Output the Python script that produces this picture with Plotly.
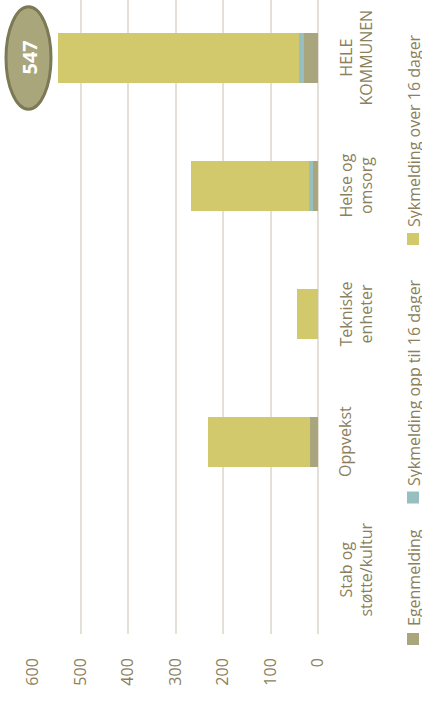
import plotly.graph_objects as go

# ---- data ----
categories = ["Stab og støtte/kultur", "Oppvekst", "Tekniske enheter", "Helse og omsorg", "HELE KOMMUNEN"]
category_labels = ["Stab og<br>støtte/kultur", "Oppvekst", "Tekniske<br>enheter", "Helse og<br>omsorg", "HELE<br>KOMMUNEN"]
series_names = ["Egenmelding", "Sykmelding opp til 16 dager", "Sykmelding over 16 dager"]
egenmelding = [0, 17, 0, 11, 30]
sykm_opp_til_16 = [0, 0, 0, 8, 9]
sykm_over_16 = [0, 215, 45, 249, 508]
x_ticks = [0, 100, 200, 300, 400, 500, 600]

# ---- style ----
W, H = 422, 702
ML, MR, MT, MB = 33, 104, 0, 68
PW, PH = W - ML - MR, H - MT - MB
colors = ["#a9a57c", "#98bfbf", "#d1c96b"]
txt_color = "#8b7f5c"
grid_color = "#e4e0d7"
FONT = "Open Sans"
Y0, Y1 = -0.5, -0.5 + PH / 128.0


def px_x(p):
    return (p - ML) / PW


def px_y(p):
    return (H - MB - p) / PH


def cat_y(i):
    return (i - Y0) / (Y1 - Y0)


fig = go.Figure()
for name, vals, col in zip(series_names, [egenmelding, sykm_opp_til_16, sykm_over_16], colors):
    fig.add_trace(go.Bar(
        y=categories, x=vals, orientation="h", name=name,
        marker=dict(color=col, line=dict(width=0)), showlegend=False,
    ))

annotations = []
shapes = []

# category labels (rotated)
for i, lab in enumerate(category_labels):
    annotations.append(dict(
        x=px_x(333), xref="paper", y=categories[i], yref="y",
        text=lab, textangle=-90, showarrow=False, xanchor="left", yanchor="middle",
        font=dict(family=FONT, size=16, color=txt_color), borderpad=0, align="center",
    ))

# legend (rotated)
legend_marker_y = [639, 497.5, 239]
legend_text_y = [627, 487, 228]
for name, col, my, ty in zip(series_names, colors, legend_marker_y, legend_text_y):
    shapes.append(dict(type="rect", xref="paper", yref="paper",
                       x0=px_x(407), x1=px_x(419), y0=px_y(my + 6), y1=px_y(my - 6),
                       fillcolor=col, line=dict(width=0)))
    annotations.append(dict(
        x=px_x(413.5), xref="paper", y=px_y(ty), yref="paper",
        text=name, textangle=-90, showarrow=False, xanchor="center", yanchor="bottom",
        font=dict(family=FONT, size=16, color=txt_color), borderpad=0,
    ))

# total callout for HELE KOMMUNEN
total = egenmelding[4] + sykm_opp_til_16[4] + sykm_over_16[4]
shapes.append(dict(type="circle", xref="paper", yref="paper",
                   x0=px_x(6), x1=px_x(51), y0=cat_y(4 - 0.40), y1=cat_y(4 + 0.40),
                   fillcolor="#aaa67b", line=dict(color="#7c7956", width=3)))
annotations.append(dict(
    x=px_x(28.5), xref="paper", y=categories[4], yref="y",
    text=f"<b>{total}</b>", textangle=-90, showarrow=False,
    xanchor="center", yanchor="middle",
    font=dict(family=FONT, size=20, color="white"),
))

fig.update_layout(
    width=W, height=H,
    margin=dict(l=ML, r=MR, t=MT, b=MB, pad=0),
    barmode="stack", bargap=0.605,
    paper_bgcolor="white", plot_bgcolor="white",
    shapes=shapes, annotations=annotations,
    xaxis=dict(range=[600, 0], tickvals=x_ticks, tickangle=-90,
               showgrid=True, gridcolor=grid_color, gridwidth=2,
               zeroline=True, zerolinecolor=grid_color, zerolinewidth=2,
               showline=False, ticks="", ticklabelstandoff=20,
               tickfont=dict(family=FONT, size=16, color=txt_color)),
    yaxis=dict(range=[Y0, Y1], showticklabels=False, showgrid=False,
               zeroline=False, showline=False, ticks=""),
)

fig.write_html("out.html")
